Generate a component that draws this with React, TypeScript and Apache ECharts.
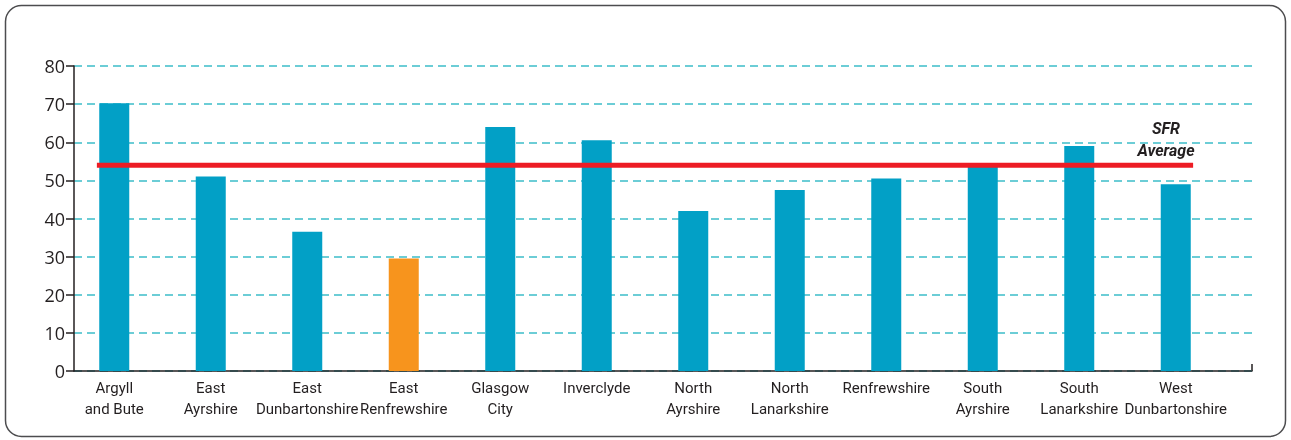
import React, { useEffect, useRef } from "react";
import * as echarts from "echarts";

const categories = [
  "Argyll\nand Bute",
  "East\nAyrshire",
  "East\nDunbartonshire",
  "East\nRenfrewshire",
  "Glasgow\nCity",
  "Inverclyde",
  "North\nAyrshire",
  "North\nLanarkshire",
  "Renfrewshire",
  "South\nAyrshire",
  "South\nLanarkshire",
  "West\nDunbartonshire",
];
const values = [70.2, 51, 36.5, 29.5, 64, 60.5, 42, 47.5, 50.5, 53.5, 59, 49];
const highlighted = "East\nRenfrewshire";
const sfrAverage = 54;
const sfrExtent = [-0.18, 11.18];
const yTicks = { min: 0, max: 80, interval: 10 };

const TEXT = "#231f20";
const COND = "Roboto, 'Liberation Sans Narrow', sans-serif";

export default function App() {
  const ref = useRef<HTMLDivElement>(null);
  useEffect(() => {
    if (!ref.current) return;
    const chart = echarts.init(ref.current, undefined, { renderer: "svg" });
    chart.setOption({
      animation: false,
      grid: [
        { left: 74, right: 39, top: 66, bottom: 69 },
        { left: 66, right: 67, top: 66, bottom: 69 },
      ],
      xAxis: [
        {
          type: "value",
          gridIndex: 0,
          min: 0,
          max: 1,
          axisLine: { show: true, lineStyle: { color: TEXT, width: 1.5 } },
          axisTick: { show: false },
          axisLabel: { show: false },
          splitLine: { show: false },
        },
        {
          type: "category",
          gridIndex: 1,
          data: categories,
          axisLine: { show: false },
          axisTick: { show: false },
          axisLabel: {
            color: TEXT,
            fontFamily: COND,
            fontSize: 15,
            lineHeight: 21,
            margin: 6,
            interval: 0,
          },
        },
        {
          type: "value",
          gridIndex: 1,
          min: -0.5,
          max: 11.5,
          show: false,
        },
      ],
      yAxis: [
        {
          type: "value",
          gridIndex: 0,
          min: yTicks.min,
          max: yTicks.max,
          interval: yTicks.interval,
          axisLine: { show: true, lineStyle: { color: TEXT, width: 1.5 } },
          axisTick: { show: true, length: 8, lineStyle: { color: TEXT, width: 1.5 } },
          axisLabel: {
            color: TEXT,
            fontFamily: "'Open Sans', sans-serif",
            fontSize: 18,
            margin: 9,
          },
          splitLine: {
            show: true,
            lineStyle: { color: "#6ccdd6", type: [8, 5], width: 2 },
          },
        },
        {
          type: "value",
          gridIndex: 1,
          min: yTicks.min,
          max: yTicks.max,
          show: false,
        },
      ],
      series: [
        {
          type: "bar",
          xAxisIndex: 1,
          yAxisIndex: 1,
          barWidth: 30,
          data: values.map((v, i) => ({
            value: v,
            itemStyle: { color: categories[i] === highlighted ? "#f7941d" : "#02a0c6" },
          })),
        },
        {
          type: "line",
          xAxisIndex: 2,
          yAxisIndex: 1,
          symbol: "none",
          z: 5,
          lineStyle: { color: "#ed1c24", width: 5 },
          data: [
            [sfrExtent[0], sfrAverage],
            [sfrExtent[1], sfrAverage],
          ],
        },
      ],
      graphic: [
        {
          type: "rect",
          shape: { x: 5.5, y: 5.5, width: 1280, height: 431, r: 16 },
          style: { fill: "none", stroke: "#4d4d4f", lineWidth: 1.5 },
          z: -10,
        },
        {
          type: "line",
          shape: { x1: 1252, y1: 371, x2: 1252, y2: 364 },
          style: { stroke: TEXT, lineWidth: 1.5 },
        },
        {
          type: "text",
          x: 1166,
          y: 139,
          style: {
            text: "SFR\nAverage",
            fill: TEXT,
            font: "italic bold 16px " + COND,
            lineHeight: 22,
            align: "center",
            verticalAlign: "middle",
          },
        },
      ],
    });
    return () => chart.dispose();
  }, []);
  return (
    <div
      ref={ref}
      style={{ position: "fixed", left: 0, top: 0, width: 1291, height: 440 }}
    />
  );
}
